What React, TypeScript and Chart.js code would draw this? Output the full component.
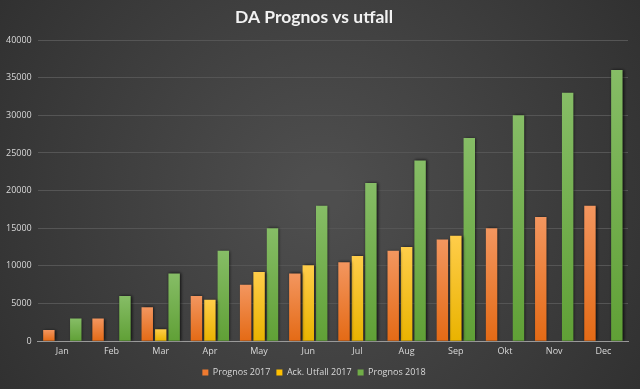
import React, { useEffect, useRef } from "react";
import { Chart, registerables } from "chart.js";

Chart.register(...registerables);

const months = ["Jan", "Feb", "Mar", "Apr", "May", "Jun", "Jul", "Aug", "Sep", "Okt", "Nov", "Dec"];
const prognos2017 = [1500, 3000, 4500, 6000, 7500, 9000, 10500, 12000, 13500, 15000, 16500, 18000];
const utfall2017 = [null, null, 1600, 5500, 9200, 10100, 11300, 12500, 14000, null, null, null];
const prognos2018 = [3000, 6000, 9000, 12000, 15000, 18000, 21000, 24000, 27000, 30000, 33000, 36000];
const yTicks = [0, 5000, 10000, 15000, 20000, 25000, 30000, 35000, 40000];

const seriesNames = ["Prognos 2017", "Ack. Utfall 2017", "Prognos 2018"];
const solidColors = ["#ee7a30", "#ffc000", "#70ad47"];
const topColors = ["#f3965f", "#ffcd4a", "#86bd66"];
const bottomColors = ["#e46a15", "#e9b300", "#60a036"];

const bgPlugin = {
  id: "bgPlugin",
  beforeDraw(chart: any) {
    const { ctx, width, height } = chart;
    ctx.save();
    const g = ctx.createRadialGradient(width / 2, height / 2, 20, width / 2, height / 2, width * 0.62);
    g.addColorStop(0, "#4e4e4e");
    g.addColorStop(1, "#2f2f2f");
    ctx.fillStyle = g;
    ctx.fillRect(0, 0, width, height);
    ctx.restore();
  },
  beforeDatasetDraw(chart: any) {
    const { ctx } = chart;
    ctx.save();
    ctx.shadowColor = "rgba(0,0,0,0.75)";
    ctx.shadowBlur = 3;
    ctx.shadowOffsetX = 1;
    ctx.shadowOffsetY = 0;
  },
  afterDatasetDraw(chart: any) {
    chart.ctx.restore();
  },
};

function barGradient(i: number) {
  return (c: any) => {
    const chart = c.chart;
    const yScale = chart.scales && chart.scales.y;
    const v = c.parsed && c.parsed.y;
    if (!yScale || v == null || isNaN(v)) return solidColors[i];
    const top = yScale.getPixelForValue(v);
    const base = yScale.getPixelForValue(0);
    if (!isFinite(top) || !isFinite(base) || top === base) return solidColors[i];
    const g = chart.ctx.createLinearGradient(0, top, 0, base);
    g.addColorStop(0, topColors[i]);
    g.addColorStop(1, bottomColors[i]);
    return g;
  };
}

export default function App() {
  const ref = useRef<HTMLCanvasElement | null>(null);
  useEffect(() => {
    if (!ref.current) return;
    const series = [prognos2017, utfall2017, prognos2018];
    const chart = new Chart(ref.current, {
      type: "bar",
      data: {
        labels: months,
        datasets: series.map((d, i) => ({
          label: seriesNames[i],
          data: d,
          backgroundColor: barGradient(i),
          borderWidth: 0,
          barPercentage: 0.85,
          categoryPercentage: 0.82,
        })),
      },
      options: {
        animation: false,
        responsive: false,
        maintainAspectRatio: false,
        layout: { padding: { left: 0, right: 12, top: 0, bottom: 2 } },
        plugins: {
          title: {
            display: true,
            text: "DA Prognos vs utfall",
            color: "#f2f2f2",
            font: { family: "Lato, 'Open Sans', sans-serif", size: 17.5, weight: "bold" },
            padding: { top: 7, bottom: 12 },
          },
          legend: {
            position: "bottom",
            labels: {
              color: "#d9d9d9",
              boxWidth: 6,
              boxHeight: 6,
              padding: 6,
              font: { family: "'Open Sans', sans-serif", size: 9 },
              generateLabels: (chart: any) =>
                chart.data.datasets.map((ds: any, i: number) => ({
                  text: ds.label,
                  fillStyle: solidColors[i],
                  strokeStyle: solidColors[i],
                  lineWidth: 0,
                  fontColor: "#d9d9d9",
                  hidden: false,
                  datasetIndex: i,
                })),
            },
          },
          tooltip: { enabled: false },
        },
        scales: {
          x: {
            grid: { display: false, drawTicks: false },
            border: { color: "#9a9a9a", width: 1 },
            ticks: { color: "#d9d9d9", font: { family: "'Open Sans', sans-serif", size: 9 }, padding: 5 },
          },
          y: {
            min: yTicks[0],
            max: yTicks[yTicks.length - 1],
            grid: { color: "#555555", drawTicks: false },
            border: { display: false },
            afterBuildTicks: (axis: any) => {
              axis.ticks = yTicks.map((v) => ({ value: v }));
            },
            ticks: {
              color: "#d9d9d9",
              font: { family: "'Open Sans', sans-serif", size: 9 },
              padding: 6,
              callback: (v: any) => String(v),
            },
          },
        },
      },
      plugins: [bgPlugin],
    });
    return () => chart.destroy();
  }, []);
  return (
    <div style={{ position: "fixed", left: 0, top: 0, width: 640, height: 389 }}>
      <canvas ref={ref} width={640} height={389} style={{ display: "block" }} />
    </div>
  );
}
